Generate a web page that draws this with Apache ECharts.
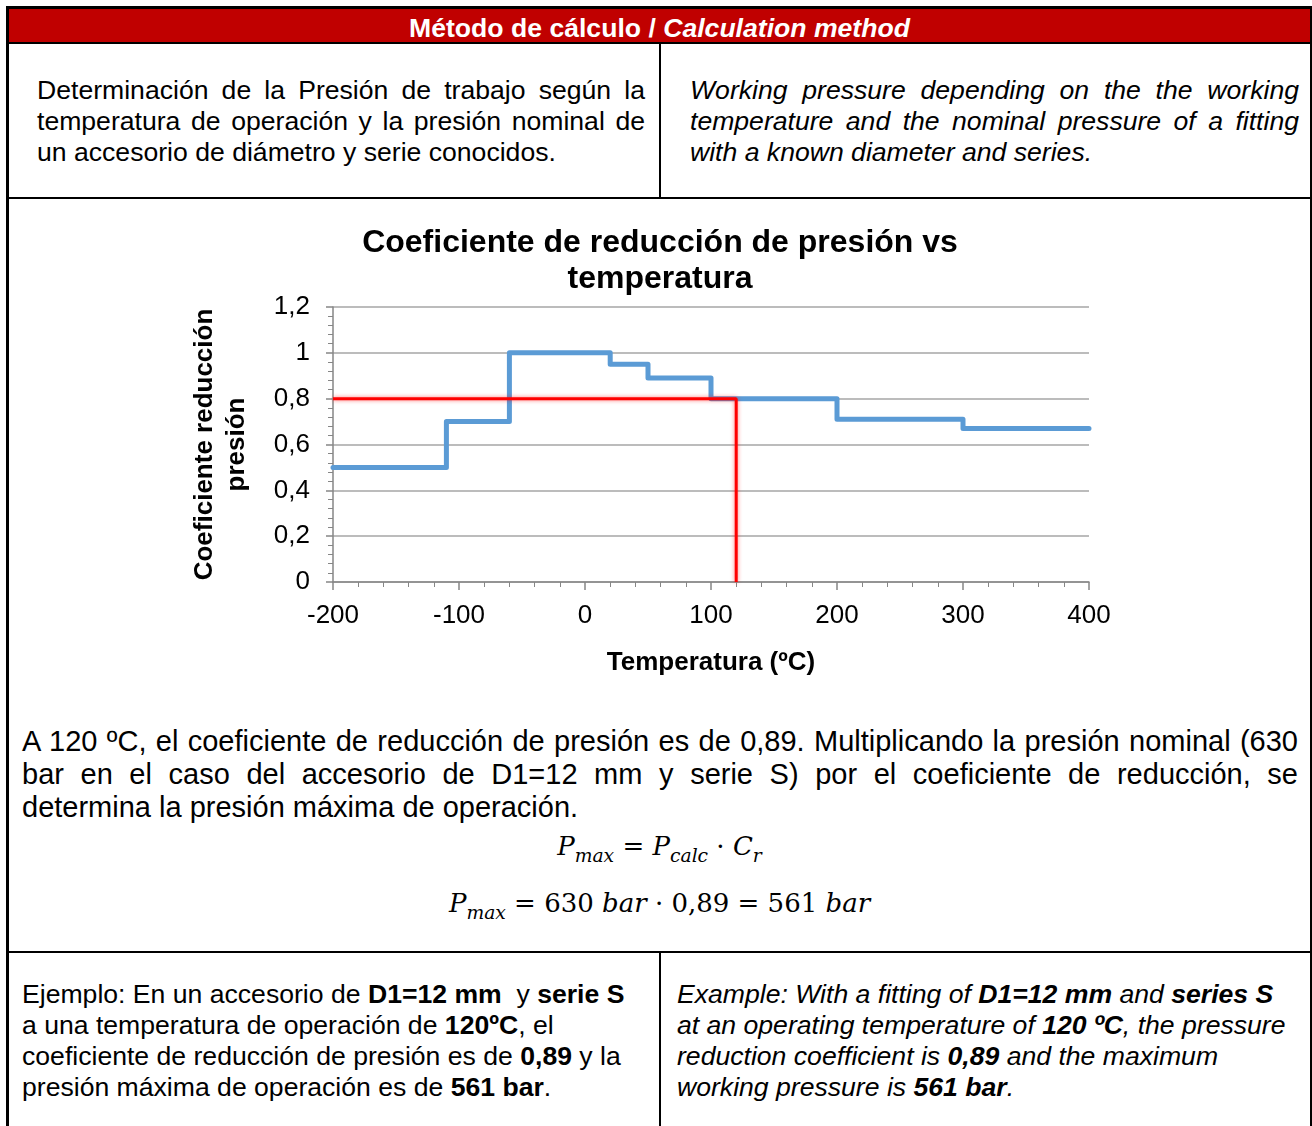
<!DOCTYPE html>
<html>
<head>
<meta charset="utf-8">
<script src="https://cdn.jsdelivr.net/npm/echarts@6/dist/echarts.min.js"></script>
<style>
  html, body { margin: 0; padding: 0; background: #fff; }
  body { width: 1312px; height: 1126px; position: relative; overflow: hidden;
         font-family: "Liberation Sans", Arial, sans-serif; color: #000; }
  .abs { position: absolute; }
  .blk { position: absolute; background: #000; }
  .cell { position: absolute; font-size: 26.6px; line-height: 31px; white-space: nowrap; }
  .j { text-align: justify; text-align-last: justify; }
  .it { font-style: italic; }
  .para { position: absolute; left: 22px; width: 1276px; font-size: 29px; line-height: 33px; white-space: nowrap; }
  .formula { position: absolute; left: 9px; width: 1301px; text-align: center;
             font-family: "DejaVu Serif", "Liberation Serif", serif; font-size: 26px; }
  .formula i { font-style: italic; }
  .formula sub { font-size: 0.72em; vertical-align: -0.4em; line-height: 0; }
</style>
</head>
<body>
  <!-- table frame -->
  <div class="blk" style="left:6px; top:6px; width:1306px; height:3px;"></div>
  <div class="abs" style="left:9px; top:9px; width:1301px; height:33px; background:#C00000;"></div>
  <div class="abs" style="left:9px; top:12px; width:1301px; height:33px; line-height:33px; text-align:center; color:#fff; font-weight:bold; font-size:26.6px;">Método de cálculo / <i>Calculation method</i></div>
  <div class="blk" style="left:6px; top:6px; width:3px; height:1120px;"></div>
  <div class="blk" style="left:1310px; top:6px; width:2px; height:1120px;"></div>
  <div class="blk" style="left:9px; top:42px; width:1301px; height:2px;"></div>
  <div class="blk" style="left:659px; top:44px; width:2px; height:153px;"></div>
  <div class="blk" style="left:9px; top:197px; width:1301px; height:2px;"></div>
  <div class="blk" style="left:9px; top:951px; width:1301px; height:2px;"></div>
  <div class="blk" style="left:659px; top:953px; width:2px; height:173px;"></div>

  <!-- row 1 -->
  <div class="cell" style="left:37px; top:75px; width:608px;">
    <div class="j">Determinación de la Presión de trabajo según la</div>
    <div class="j">temperatura de operación y la presión nominal de</div>
    <div>un accesorio de diámetro y serie conocidos.</div>
  </div>
  <div class="cell it" style="left:690px; top:75px; width:609px;">
    <div class="j">Working pressure depending on the the working</div>
    <div class="j">temperature and the nominal pressure of a fitting</div>
    <div>with a known diameter and series.</div>
  </div>

  <!-- chart -->
  <div id="chart" class="abs" style="left:8px; top:200px; width:1304px; height:500px;"></div>

  <!-- paragraph -->
  <div class="para" style="top:725px;">
    <div class="j">A 120 ºC, el coeficiente de reducción de presión es de 0,89. Multiplicando la presión nominal (630</div>
    <div class="j">bar en el caso del accesorio de D1=12 mm y serie S) por el coeficiente de reducción, se</div>
    <div>determina la presión máxima de operación.</div>
  </div>
  <div class="formula" style="top:828px; line-height:36px;"><i>P</i><sub><i>max</i></sub> = <i>P</i><sub><i>calc</i></sub> · <i>C</i><sub><i>r</i></sub></div>
  <div class="formula" style="top:885px; line-height:36px;"><i>P</i><sub><i>max</i></sub> = 630 <i>bar</i> · 0,89 = 561 <i>bar</i></div>

  <!-- row 3 -->
  <div class="cell" style="left:22px; top:979px;">
    Ejemplo: En un accesorio de <b>D1=12 mm</b>&nbsp; y <b>serie S</b><br>
    a una temperatura de operación de <b>120ºC</b>, el<br>
    coeficiente de reducción de presión es de <b>0,89</b> y la<br>
    presión máxima de operación es de <b>561 bar</b>.
  </div>
  <div class="cell it" style="left:677px; top:979px;">
    Example: With a fitting of <b>D1=12 mm</b> and <b>series S</b><br>
    at an operating temperature of <b>120 ºC</b>, the pressure<br>
    reduction coefficient is <b>0,89</b> and the maximum<br>
    working pressure is <b>561 bar</b>.
  </div>

<script>
// ---- data ----
const chartTitle = 'Coeficiente de reducción de presión vs\ntemperatura';
const xAxisName = 'Temperatura (ºC)';
const yAxisName = 'Coeficiente reducción\npresión';
// step curve: coefficient valid from each temperature to the next
const stepTemps = [-200, -110, -60, 20, 50, 100, 200, 300, 400];
const stepCoefs = [0.5, 0.7, 1.0, 0.95, 0.89, 0.8, 0.71, 0.67, 0.67];
// red reading guide line
const guideTemps = [-200, 120, 120];
const guideCoefs = [0.8, 0.8, 0];
// axes
const xMin = -200, xMax = 400, xStep = 100;
const yMin = 0, yMax = 1.2, yStep = 0.2;

const FONT = '"Liberation Sans", Arial, sans-serif';
const axisGray = '#868686';

const chart = echarts.init(document.getElementById('chart'), null, { renderer: 'canvas' });
chart.setOption({
  animation: false,
  title: {
    text: chartTitle,
    left: 'center',
    top: 20,
    textStyle: { fontFamily: FONT, fontSize: 32, fontWeight: 'bold', color: '#000', lineHeight: 36 }
  },
  grid: { left: 325, top: 107, width: 756, height: 275, containLabel: false },
  xAxis: {
    type: 'value',
    min: xMin, max: xMax, interval: xStep,
    name: xAxisName,
    nameLocation: 'middle',
    nameGap: 66,
    nameTextStyle: { fontFamily: FONT, fontSize: 26, fontWeight: 'bold', color: '#000', lineHeight: 30 },
    axisLine: { show: true, onZero: false, lineStyle: { color: axisGray, width: 1.5 } },
    axisTick: { show: true, length: 8, lineStyle: { color: axisGray, width: 1.5 } },
    minorTick: { show: true, splitNumber: 5, length: 5, lineStyle: { color: axisGray, width: 1 } },
    axisLabel: { margin: 21, fontFamily: FONT, fontSize: 26, color: '#000' },
    splitLine: { show: false }
  },
  yAxis: {
    type: 'value',
    min: yMin, max: yMax, interval: yStep,
    name: yAxisName,
    nameLocation: 'middle',
    nameRotate: 90,
    nameGap: 80,
    nameTextStyle: { fontFamily: FONT, fontSize: 26, fontWeight: 'bold', color: '#000', lineHeight: 32 },
    axisLine: { show: true, onZero: false, lineStyle: { color: axisGray, width: 1.5 } },
    axisTick: { show: true, length: 7, lineStyle: { color: axisGray, width: 1.5 } },
    minorTick: { show: true, splitNumber: 5, length: 5, lineStyle: { color: axisGray, width: 1 } },
    axisLabel: {
      margin: 23, fontFamily: FONT, fontSize: 26, color: '#000',
      formatter: v => String(Math.round(v * 10) / 10).replace('.', ',')
    },
    splitLine: { show: true, lineStyle: { color: '#A6A6A6', width: 1.5 } }
  },
  series: [
    {
      type: 'line',
      step: 'end',
      data: stepTemps.map((t, i) => [t, stepCoefs[i]]),
      showSymbol: false,
      clip: false,
      lineStyle: { color: '#5B9BD5', width: 5, cap: 'round', join: 'round' },
      z: 2
    },
    {
      type: 'line',
      data: guideTemps.map((t, i) => [t, guideCoefs[i]]),
      showSymbol: false,
      clip: false,
      lineStyle: { color: '#FF0000', width: 3, shadowColor: 'rgba(255,0,0,0.55)', shadowBlur: 4 },
      z: 3
    }
  ]
});
</script>
</body>
</html>
